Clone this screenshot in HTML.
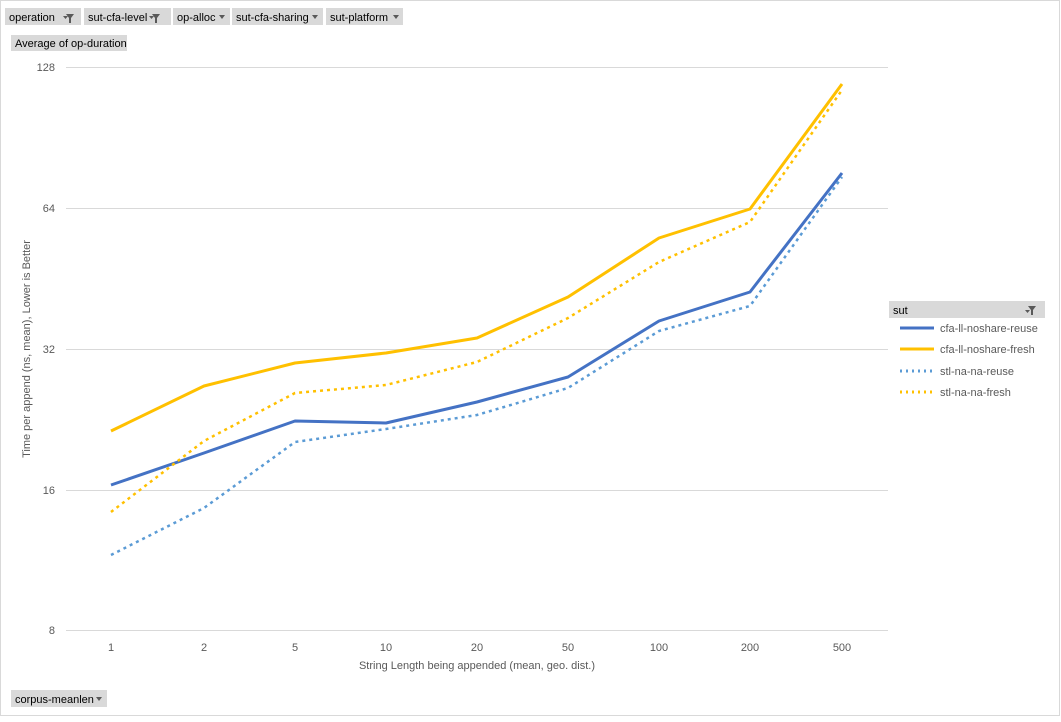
<!DOCTYPE html>
<html><head><style>
body{margin:0;background:#fff;}
.f{font-family:"Liberation Sans",sans-serif;}
</style></head><body>
<svg width="1061" height="717" xmlns="http://www.w3.org/2000/svg" font-family="Liberation Sans, sans-serif">
<rect x="0.5" y="0.5" width="1059" height="715" fill="#fff" stroke="#d9d9d9"/>
<g font-size="11" fill="#000">
<rect x="5" y="8" width="76" height="17" fill="#d9d9d9"/><text x="9" y="21">operation</text>
<rect x="84" y="8" width="87" height="17" fill="#d9d9d9"/><text x="88" y="21">sut-cfa-level</text>
<rect x="173" y="8" width="57" height="17" fill="#d9d9d9"/><text x="177" y="21">op-alloc</text>
<rect x="232" y="8" width="91" height="17" fill="#d9d9d9"/><text x="236" y="21">sut-cfa-sharing</text>
<rect x="326" y="8" width="77" height="17" fill="#d9d9d9"/><text x="330" y="21">sut-platform</text>
<rect x="11" y="35" width="116" height="16" fill="#d9d9d9"/><text x="15" y="47">Average of op-duration</text>
<rect x="11" y="690" width="96" height="17" fill="#d9d9d9"/><text x="15" y="703">corpus-meanlen</text>
<rect x="889" y="301" width="156" height="17" fill="#d9d9d9"/><text x="893" y="314">sut</text>
</g>
<g fill="#595959">
<path d="M63 16h5l-2.5 3z M66 14h8l-3 4v5h-2v-5z"/>
<path d="M149 16h5l-2.5 3z M152 14h8l-3 4v5h-2v-5z"/>
<path d="M219 15h6l-3 4z M312 15h6l-3 4z M393 15h6l-3 4z M96 697h6l-3 4z"/>
<path d="M1025 310h5l-2.5 3z M1028 306h8l-3 4v5h-2v-5z"/>
</g>
<g stroke="#d9d9d9" stroke-width="1">
<line x1="66" y1="67.5" x2="888" y2="67.5"/><line x1="66" y1="208.5" x2="888" y2="208.5"/>
<line x1="66" y1="349.5" x2="888" y2="349.5"/><line x1="66" y1="490.5" x2="888" y2="490.5"/>
<line x1="66" y1="630.5" x2="888" y2="630.5"/>
</g>
<g font-size="11" fill="#595959" text-anchor="end">
<text x="55" y="71">128</text><text x="55" y="212">64</text><text x="55" y="353">32</text><text x="55" y="494">16</text><text x="55" y="634">8</text>
</g>
<g font-size="11" fill="#595959" text-anchor="middle">
<text x="111" y="651">1</text><text x="204" y="651">2</text><text x="295" y="651">5</text><text x="386" y="651">10</text><text x="477" y="651">20</text><text x="568" y="651">50</text><text x="659" y="651">100</text><text x="750" y="651">200</text><text x="842" y="651">500</text>
<text x="477" y="669">String Length  being appended (mean, geo. dist.)</text>
<text transform="translate(30,349) rotate(-90)">Time per append (ns, mean),  Lower is Better</text>
</g>
<g fill="none" stroke-width="3" stroke-linejoin="round">
<polyline stroke="#4472c4" points="111,485 204,453 295,421 386,423 477,402 568,377 659,321 750,292 842,173"/>
<polyline stroke="#ffc000" points="111,431 204,386 295,363 386,353 477,338 568,297 659,238 750,209 842,84"/>
<polyline stroke="#5b9bd5" stroke-dasharray="3,4" stroke-width="2.5" points="111,555 204,508 295,442 386,429 477,415 568,388 659,331 750,306 842,177"/>
<polyline stroke="#ffc000" stroke-dasharray="3,4" stroke-width="2.5" points="111,512 204,441 295,393 386,385 477,362 568,318 659,262 750,222 842,90"/>
</g>
<g stroke-width="3">
<line x1="900" y1="328" x2="934" y2="328" stroke="#4472c4"/>
<line x1="900" y1="349" x2="934" y2="349" stroke="#ffc000"/>
<line x1="900" y1="371" x2="934" y2="371" stroke="#5b9bd5" stroke-dasharray="2,4"/>
<line x1="900" y1="392" x2="934" y2="392" stroke="#ffc000" stroke-dasharray="2,4"/>
</g>
<g font-size="11" fill="#595959">
<text x="940" y="332">cfa-ll-noshare-reuse</text><text x="940" y="353">cfa-ll-noshare-fresh</text>
<text x="940" y="375">stl-na-na-reuse</text><text x="940" y="396">stl-na-na-fresh</text>
</g>
</svg>
</body></html>
